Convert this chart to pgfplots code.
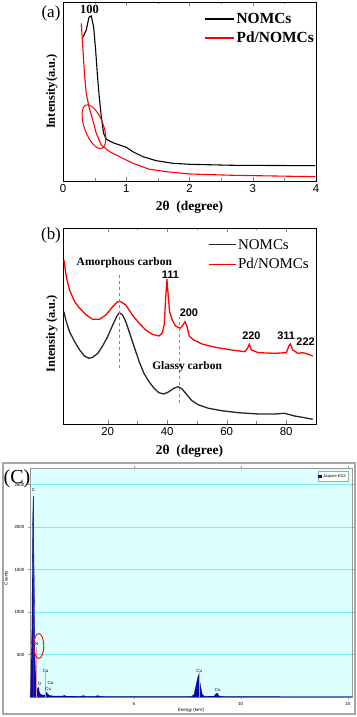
\documentclass[border=0pt]{standalone}
\usepackage{fontspec}
\setmainfont{Liberation Serif}
\newfontfamily\arial{Liberation Sans}
\usepackage{pgfplots}
\pgfplotsset{compat=1.18}
\usetikzlibrary{shapes.geometric}

\definecolor{edxblue}{RGB}{10,10,170}
\definecolor{edxbg}{RGB}{222,255,255}
\definecolor{edxgrid}{RGB}{120,235,245}
\definecolor{guide}{RGB}{120,135,175}
\definecolor{pinkline}{RGB}{240,150,160}

\begin{document}
\begin{tikzpicture}
\useasboundingbox (0,0) rectangle (357bp,717bp);

% ---------- (a) low-angle XRD ----------
\begin{axis}[
  at={(63bp,536bp)}, anchor=south west, scale only axis,
  width=253bp, height=179bp, clip=false,
  xmin=0, xmax=4, ymin=0, ymax=179,
  xtick={0,1,2,3,4}, minor x tick num=1, ytick=\empty,
  tick align=inside, major tick length=4bp, minor tick length=2.5bp,
  tick label style={font=\arial\fontsize{11.5}{12}\selectfont},
  /pgf/number format/assume math mode=true,
  xlabel={2θ\ \ (degree)},
  xlabel style={font=\bfseries\fontsize{13.5}{14}\selectfont, at={(axis description cs:0.5,0)}, anchor=center, yshift=-26bp},
  ylabel={Intensity(a.u.)},
  ylabel style={font=\bfseries\fontsize{12.5}{13}\selectfont, at={(axis description cs:0,0.5)}, anchor=center, yshift=11bp},
  legend style={at={(rel axis cs:1,1)}, anchor=north east, yshift=-9bp, draw=none, fill=none,
    font=\bfseries\fontsize{15.5}{16}\selectfont, row sep=3bp, inner sep=0bp},
  legend cell align=left,
  legend image code/.code={\draw[#1] (0bp,0bp) -- (29bp,0bp);},
]
\addplot[black, line width=1.1pt] coordinates {
 (0.316,143.7) (0.368,151) (0.41,163.7) (0.447,165) (0.484,154.3) (0.516,131)
 (0.542,107.7) (0.568,87.7) (0.605,64.3) (0.642,47.7) (0.684,41.7) (0.789,38.3)
 (1.0,33.7) (1.105,29.3) (1.263,24.3) (1.474,20.3) (1.737,17.7) (2.0,16.7)
 (2.684,15.7) (3.99,15.3)};
\addlegendentry{NOMCs}
\addplot[red, line width=1.1pt] coordinates {
 (0.289,157.7) (0.316,131) (0.342,104.3) (0.368,87.7) (0.41,74.3) (0.463,62.7)
 (0.526,47.7) (0.605,36) (0.737,29.3) (0.895,24.3) (1.105,17.7) (1.368,11.7)
 (1.632,9.3) (2.0,7) (2.684,5.7) (3.99,4.3)};
\addlegendentry{Pd/NOMCs}
\node[font=\bfseries\fontsize{12.5}{12}\selectfont] at (axis cs:0.42,172) {100};
\node[draw=red, ellipse, line width=1pt, minimum width=46bp, minimum height=19bp, rotate=-70] at (axis cs:0.489,54.3) {};
\end{axis}
\node[font=\fontsize{17}{17}\selectfont] at (51bp,704bp) {(a)};

% ---------- (b) wide-angle XRD ----------
\begin{axis}[
  at={(63bp,293bp)}, anchor=south west, scale only axis,
  width=253bp, height=196bp, clip=false,
  xmin=5, xmax=90, ymin=0, ymax=196,
  xtick={20,40,60,80}, minor x tick num=1, ytick=\empty,
  tick align=inside, major tick length=4bp, minor tick length=2.5bp,
  tick label style={font=\arial\fontsize{11.5}{12}\selectfont},
  /pgf/number format/assume math mode=true,
  xlabel={2θ\ \ (degree)},
  xlabel style={font=\bfseries\fontsize{13.5}{14}\selectfont, at={(axis description cs:0.5,0)}, anchor=center, yshift=-27bp},
  ylabel={Intensity (a.u.)},
  ylabel style={font=\bfseries\fontsize{12.5}{13}\selectfont, at={(axis description cs:0,0.46)}, anchor=center, yshift=11bp},
  legend style={at={(rel axis cs:0.98,1)}, anchor=north east, yshift=-9bp, draw=none, fill=none,
    font=\fontsize{15}{16}\selectfont, row sep=4bp, inner sep=0bp},
  legend cell align=left,
  legend image code/.code={\draw[#1, line width=1.2pt] (0bp,0bp) -- (27bp,0bp);},
]
\addplot[black!85, line width=1.3pt] coordinates {
 (5.3,112.3) (6.1,102.3) (7.2,92.3) (8.9,82.3) (10.6,74) (12.2,68) (13.7,65.7)
 (15,66.7) (16.7,70.7) (18.3,78) (20,87.3) (21.7,99) (23,107.3) (23.9,111.3)
 (25,109) (26.1,102.3) (27.4,90.7) (28.9,77.3) (30.6,62.3) (32.2,50.7)
 (33.9,42.3) (35.6,35.7) (37.2,31.3) (38.9,30) (40.6,32.3) (42.2,35.7)
 (43.7,37.3) (45,35) (46.7,29) (48.3,23.3) (50.6,19) (53.9,15.7) (58.3,13.3)
 (63.9,11.3) (70.6,10) (76.1,10) (79.4,10.7) (82.8,8) (86.1,6.3) (88.9,4.7)};
\addlegendentry{NOMCs}
\addplot[red, line width=1.3pt] coordinates {
 (5.3,164) (6.1,147.3) (7.2,134) (8.9,122.3) (10.6,115.7) (12.8,109) (15,104.7)
 (17.2,104.7) (19.4,109) (21.7,117.3) (23.3,122.3) (24.4,122.3) (26.1,119)
 (28.3,109) (30.6,100.7) (32.8,94) (35,89.7) (37.2,88) (38.3,90.7) (39,99)
 (39.4,120.7) (39.9,144.7) (40.3,130.7) (40.8,112.3) (41.7,104) (42.8,98)
 (44.4,95.7) (45.3,99) (46,102.3) (46.7,97.3) (47.4,88) (48.9,84) (51.7,80)
 (56.1,76.7) (61.7,74) (66.1,72.3) (67,75.7) (67.6,79.7) (68.3,74) (70.6,71.3)
 (76.1,70.7) (80,71.3) (80.9,78) (81.4,80) (82.2,74) (83.9,70.7) (85.6,71.3)
 (87.2,70) (88.9,68)};
\addlegendentry{Pd/NOMCs}
\addplot[guide, dashed, line width=0.5pt, forget plot] coordinates {(24,56) (24,149)};
\addplot[guide, dashed, line width=0.5pt, forget plot] coordinates {(43.9,21) (43.9,107)};
\node[font=\bfseries\fontsize{11.5}{12}\selectfont] at (axis cs:25.6,161) {Amorphous carbon};
\node[font=\bfseries\fontsize{11.5}{12}\selectfont] at (axis cs:46.7,57) {Glassy carbon};
\node[font=\arial\bfseries\fontsize{11}{12}\selectfont] at (axis cs:41.1,149) {111};
\node[font=\arial\bfseries\fontsize{11}{12}\selectfont] at (axis cs:47.3,111) {200};
\node[font=\arial\bfseries\fontsize{11}{12}\selectfont] at (axis cs:68.3,88) {220};
\node[font=\arial\bfseries\fontsize{11}{12}\selectfont] at (axis cs:80,88) {311};
\node[font=\arial\bfseries\fontsize{11}{12}\selectfont] at (axis cs:86.5,82) {222};
\end{axis}
\node[font=\fontsize{17}{17}\selectfont] at (51bp,482bp) {(b)};

% ---------- (c) EDX ----------
\draw[gray!70, line width=1.2bp] (3bp,3bp) rectangle (355bp,254bp);
\begin{axis}[
  at={(30bp,20bp)}, anchor=south west, scale only axis,
  width=322bp, height=229bp, clip=false,
  xmin=0.15, xmax=15.2, ymin=0, ymax=2694,
  xtick={5,10,15}, ytick={500,1000,1500,2000,2500},
  axis background/.style={fill=edxbg},
  ymajorgrids, major grid style={edxgrid, line width=0.7pt},
  axis line style={gray!80},
  tick align=outside, major tick length=2bp, tick style={gray!80},
  tick label style={font=\arial\fontsize{4.5}{5}\selectfont},
  /pgf/number format/assume math mode=true,
  /pgf/number format/1000 sep={},
  xlabel={Energy (keV)},
  xlabel style={font=\arial\fontsize{4.5}{5}\selectfont, at={(axis description cs:0.5,0)}, anchor=center, yshift=-13bp},
  ylabel={Counts},
  ylabel style={font=\arial\fontsize{4.5}{5}\selectfont, at={(axis description cs:0,0.52)}, anchor=center, yshift=24bp},
  legend style={at={(rel axis cs:0.99,0.985)}, anchor=north east, draw=gray!70, fill=white,
    font=\arial\fontsize{4}{5}\selectfont, inner sep=0.5bp},
  legend image code/.code={\fill[edxblue] (0bp,-1.3bp) rectangle (2.6bp,1.3bp);},
]
\addplot[fill=edxblue, draw=edxblue!80!black, line width=0.3pt] coordinates {
 (0.15,0) (0.18,50) (0.2,350) (0.24,800) (0.27,2000) (0.3,2356) (0.32,1900)
 (0.35,1260) (0.37,640) (0.39,400) (0.42,250) (0.45,180) (0.48,100) (0.52,90)
 (0.55,115) (0.58,60) (0.65,30) (0.75,22) (0.85,25) (0.9,40) (0.93,55) (0.97,40)
 (1.05,20) (1.2,12) (1.5,10) (1.7,12) (1.76,20) (1.82,10) (2.5,8) (2.66,16)
 (2.75,8) (3.2,8) (3.32,16) (3.45,6) (5,5) (7.7,5) (7.82,30) (7.92,150)
 (8.02,262) (8.1,160) (8.2,30) (8.3,8) (8.75,10) (8.84,38) (8.9,45) (8.98,12)
 (9.2,5) (15.2,3)} \closedcycle;
\addlegendentry{Acquire EDX}
\addplot[red!75!black, line width=0.5pt, forget plot] coordinates {(0.31,0) (0.31,2370)};
\addplot[pinkline, line width=0.6pt, forget plot] coordinates {(0.44,0) (0.44,590)};
\addplot[pinkline, line width=0.6pt, forget plot] coordinates {(0.88,0) (0.88,290)};
\addplot[pinkline, line width=0.6pt, forget plot] coordinates {(8.05,0) (8.05,290)};
\node[font=\arial\fontsize{4.5}{5}\selectfont, anchor=south] at (axis cs:0.31,2370) {C};
\node[font=\arial\fontsize{4.5}{5}\selectfont] at (axis cs:0.47,624) {N};
\node[font=\arial\fontsize{4.5}{5}\selectfont] at (axis cs:0.6,153) {O};
\node[font=\arial\fontsize{4.5}{5}\selectfont] at (axis cs:0.88,306) {Cu};
\node[font=\arial\fontsize{4.5}{5}\selectfont] at (axis cs:1.11,165) {Cu};
\node[font=\arial\fontsize{4.5}{5}\selectfont] at (axis cs:1.0,94) {Cu};
\node[font=\arial\fontsize{4.5}{5}\selectfont] at (axis cs:8.06,306) {Cu};
\node[font=\arial\fontsize{4.5}{5}\selectfont] at (axis cs:8.92,82) {Cu};
\node[draw=red, ellipse, line width=0.9pt, minimum width=10bp, minimum height=25bp] at (axis cs:0.56,600) {};
\end{axis}
\node[font=\fontsize{20}{20}\selectfont] at (17bp,238bp) {(C)};
\end{tikzpicture}
\end{document}
